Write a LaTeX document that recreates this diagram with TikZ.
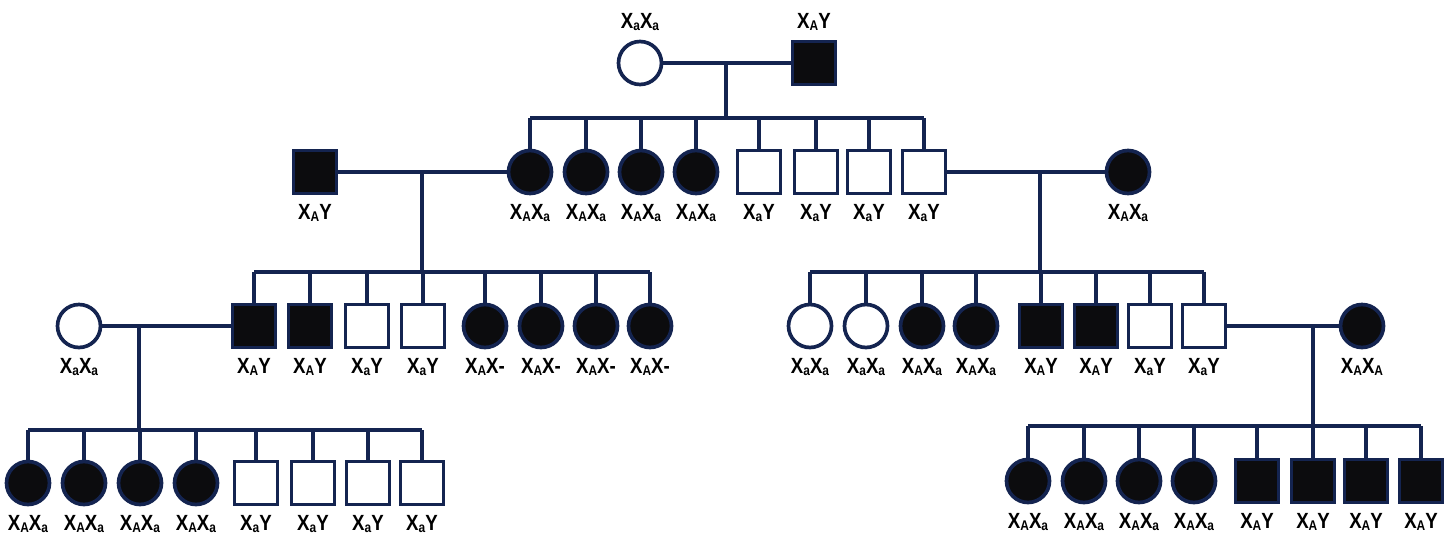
\documentclass[tikz,border=0pt]{standalone}
\usepackage{fontspec}
\setmainfont{Liberation Sans}
\usepackage{graphicx}
\usepackage{tikz}

\definecolor{navy}{RGB}{20,36,80}
\definecolor{ink}{RGB}{12,12,14}

\newcommand\sbx[1]{\raisebox{-1.3pt}{\fontsize{8}{9}\selectfont #1}}
\newcommand\geno[1]{\scalebox{0.85}[1]{#1}}

\tikzset{
	fem/.style={circle, draw=navy, line width=2.1pt, fill=white, minimum size=0.86cm, inner sep=0pt, outer sep=0pt},
	mal/.style={fem, rectangle},
	aff/.style={fill=ink},
	unaff/.style={},
	gtlab/.style={inner sep=0pt, label distance=6pt, font=\fontsize{12.5}{14}\selectfont\bfseries},
	gtl/.style={label={[gtlab]below:\geno{#1}}},
	gtu/.style={label={[gtlab]above:\geno{#1}}},
	link/.style={draw=navy, line width=1.9pt}
}

\begin{document}
\begin{tikzpicture}[x=0.02cm, y=-0.02cm]
	\useasboundingbox (0,0) rectangle (1452,544);

	% generation I
	\node[fem, gtu={X\sbx{a}X\sbx{a}}] (gm) at (640,63) {};
	\node[mal, aff, gtu={X\sbx{A}Y}] (gf) at (814,63) {};
	\coordinate (u1) at (726,63);
	\coordinate (s1) at (726,118);

	% generation II
	\foreach \x [count=\i] in {530,586,641,696}
		\node[fem, aff, gtl={X\sbx{A}X\sbx{a}}] (ii\i) at (\x,172) {};
	\foreach \x [count=\i from 5] in {759,816,869,924}
		\node[mal, gtl={X\sbx{a}Y}] (ii\i) at (\x,172) {};
	\node[mal, aff, gtl={X\sbx{A}Y}] (hl) at (315,172) {};
	\node[fem, aff, gtl={X\sbx{A}X\sbx{a}}] (wr) at (1128,172) {};
	\coordinate (u2) at (422,172);
	\coordinate (s2) at (422,272);
	\coordinate (u3) at (1040,172);
	\coordinate (s3) at (1040,272);

	% generation III
	\foreach \x/\s/\g [count=\i] in {254/aff/A, 310/aff/A, 367/unaff/a, 423/unaff/a}
		\node[mal, \s, gtl={X\sbx{\g}Y}] (iiia\i) at (\x,326) {};
	\foreach \x [count=\i from 5] in {485,541,596,650}
		\node[fem, aff, gtl={X\sbx{A}X-}] (iiia\i) at (\x,326) {};
	\foreach \x/\s/\g [count=\i] in {810/unaff/a, 866/unaff/a, 922/aff/A, 976/aff/A}
		\node[fem, \s, gtl={X\sbx{\g}X\sbx{a}}] (iiib\i) at (\x,326) {};
	\foreach \x/\s/\g [count=\i from 5] in {1041/aff/A, 1096/aff/A, 1150/unaff/a, 1204/unaff/a}
		\node[mal, \s, gtl={X\sbx{\g}Y}] (iiib\i) at (\x,326) {};
	\node[fem, gtl={X\sbx{a}X\sbx{a}}] (wl) at (79,326) {};
	\node[fem, aff, gtl={X\sbx{A}X\sbx{A}}] (wrr) at (1362,326) {};
	\coordinate (u4) at (139,326);
	\coordinate (s4) at (139,430);
	\coordinate (u5) at (1313,326);
	\coordinate (s5) at (1313,426);

	% generation IV
	\foreach \x [count=\i] in {28,84,140,196}
		\node[fem, aff, gtl={X\sbx{A}X\sbx{a}}] (iva\i) at (\x,483) {};
	\foreach \x [count=\i from 5] in {256,313,368,422}
		\node[mal, gtl={X\sbx{a}Y}] (iva\i) at (\x,483) {};
	\foreach \x [count=\i] in {1028,1084,1139,1194}
		\node[fem, aff, gtl={X\sbx{A}X\sbx{a}}] (ivb\i) at (\x,481) {};
	\foreach \x [count=\i from 5] in {1257,1313,1366,1421}
		\node[mal, aff, gtl={X\sbx{A}Y}] (ivb\i) at (\x,481) {};

	\begin{scope}[link]
	\draw (gm) -- (gf);
	\draw (u1) -- (s1);
	\draw (ii1 |- s1) -- (ii8 |- s1);
	\foreach \i in {1,...,8} \draw (ii\i |- s1) -- (ii\i);

	\draw (hl) -- (ii1);
	\draw (u2) -- (s2);
	\draw (iiia1 |- s2) -- (iiia8 |- s2);
	\foreach \i in {1,...,8} \draw (iiia\i |- s2) -- (iiia\i);

	\draw (ii8) -- (wr);
	\draw (u3) -- (s3);
	\draw (iiib1 |- s3) -- (iiib8 |- s3);
	\foreach \i in {1,...,8} \draw (iiib\i |- s3) -- (iiib\i);

	\draw (wl) -- (iiia1);
	\draw (u4) -- (s4);
	\draw (iva1 |- s4) -- (iva8 |- s4);
	\foreach \i in {1,...,8} \draw (iva\i |- s4) -- (iva\i);

	\draw (iiib8) -- (wrr);
	\draw (u5) -- (s5);
	\draw (ivb1 |- s5) -- (ivb8 |- s5);
	\foreach \i in {1,...,8} \draw (ivb\i |- s5) -- (ivb\i);
	\end{scope}
\end{tikzpicture}
\end{document}
